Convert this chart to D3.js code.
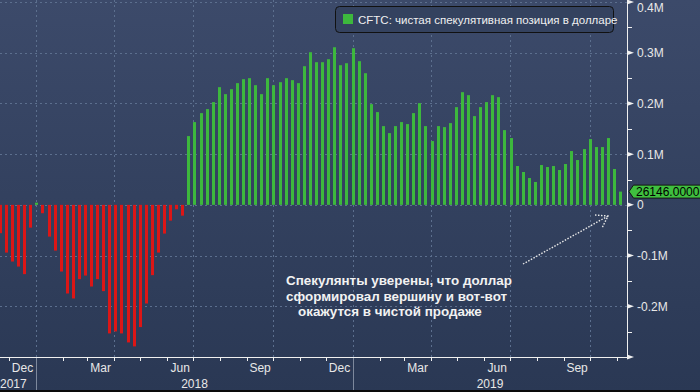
<!DOCTYPE html>
<html>
<head>
<meta charset="utf-8">
<script src="https://cdn.jsdelivr.net/npm/d3@7"></script>
<style>
  body { margin: 0; background: #2c3a57; }
  svg { display: block; font-family: "Liberation Sans", Arial, sans-serif; }
</style>
</head>
<body>
<script>
// CFTC net speculative USD position, weekly (Tuesday) from 21 Nov 2017
var firstWeek = "2017-11-21"
var netPosition = [
  -55900, -94100, -111800, -121700, -136600, -44900, 4300, -16500, -62600, -90200,
  -131500, -174800, -184600, -146500, -139400, -161000, -146500, -170100, -253500, -249600,
  -253500, -271300, -279100, -241000, -194500, -138600, -94100, -56700, -31100, -8700,
  -21300, 135600, 163200, 180900, 188800, 202600, 232100, 218300, 228100, 240000,
  247800, 249800, 236000, 218300, 249800, 236000, 241900, 249800, 245900, 240000,
  273400, 301000, 281300, 281300, 287200, 310800, 275400, 279300, 308900, 283300,
  259600, 198600, 182900, 155300, 141500, 155300, 163200, 159300, 180900, 200600,
  155300, 125800, 155300, 153300, 161200, 192700, 222200, 216300, 175000, 192700,
  202600, 216300, 212400, 147400, 131700, 76600, 64800, 52900, 45100, 78500,
  74600, 76600, 68700, 80500, 106100, 88400, 110000, 129700, 114000, 114000,
  131700, 70700, 26146
]
var yTicks = [-300000, -200000, -100000, 0, 100000, 200000, 300000, 400000]
var yTickLabels = ["", "-0.2M", "-0.1M", "0", "0.1M", "0.2M", "0.3M", "0.4M"]
var monthLabels = ["Dec", "Mar", "Jun", "Sep"]
var legendText = "CFTC: чистая спекулятивная позиция в долларе"
var noteLines = ["Спекулянты уверены, что доллар", "сформировал вершину и вот-вот", "окажутся в чистой продаже"]

var w = 700
var h = 392
var plotRight = 627
var plotBottom = 357

var start = d3.utcParse("%Y-%m-%d")(firstWeek)
var data = netPosition.map((v, i) => ({ date: d3.utcDay.offset(start, 7 * i), value: v }))

var svg = d3.select("body").append("svg")
    .attr("width", w)
    .attr("height", h)

// background
var grad = svg.append("defs").append("linearGradient")
    .attr("id", "bg").attr("x1", 0).attr("y1", 0).attr("x2", 0).attr("y2", 1)
grad.append("stop").attr("offset", "0%").attr("stop-color", "#3c4a6a")
grad.append("stop").attr("offset", "100%").attr("stop-color", "#2a3854")
svg.append("rect").attr("width", w).attr("height", h).attr("fill", "url(#bg)")
svg.append("rect").attr("y", h - 2).attr("width", w).attr("height", 2).attr("fill", "#0a0a0a")

var xScale = d3.scaleUtc()
    .domain([new Date(Date.UTC(2018, 0, 1)), new Date(Date.UTC(2019, 0, 1))])
    .range([36, 353])

var yScale = d3.scaleLinear()
    .domain([-300000, 400000])
    .range([plotBottom, 2])

var xMin = xScale.invert(0)
var xMax = xScale.invert(plotRight)

// grid
var grid = svg.append("g")
    .attr("stroke", "#5c6f8e")
    .attr("stroke-width", 1)
    .attr("stroke-dasharray", "2,3")
grid.selectAll(".hg")
    .data(yTicks.filter(t => t > -300000))
    .enter().append("line")
    .attr("x1", 0).attr("x2", plotRight)
    .attr("y1", d => Math.round(yScale(d)) + 0.5)
    .attr("y2", d => Math.round(yScale(d)) + 0.5)
grid.selectAll(".vg")
    .data(d3.utcMonth.every(3).range(xMin, xMax))
    .enter().append("line")
    .attr("x1", d => Math.round(xScale(d)) + 0.5)
    .attr("x2", d => Math.round(xScale(d)) + 0.5)
    .attr("y1", 0).attr("y2", plotBottom)

// bars
svg.append("g").selectAll("rect")
    .data(data)
    .enter().append("rect")
    .attr("x", d => Math.round(xScale(d.date) - 1.5))
    .attr("width", 3)
    .attr("y", d => d.value >= 0 ? yScale(d.value) : yScale(0))
    .attr("height", d => Math.max(1, Math.abs(yScale(d.value) - yScale(0))))
    .attr("fill", d => d.value >= 0 ? "#3db83d" : "#dc1616")

// y axis
var yAxis = svg.append("g")
yAxis.append("line")
    .attr("x1", plotRight + 0.5).attr("x2", plotRight + 0.5)
    .attr("y1", 0).attr("y2", plotBottom + 1)
    .attr("stroke", "#f0f0f0")
var minor = d3.range(-250000, 400000, 100000)
yAxis.selectAll(".minor")
    .data(minor)
    .enter().append("line")
    .attr("x1", plotRight).attr("x2", plotRight + 5)
    .attr("y1", d => Math.round(yScale(d)) + 0.5)
    .attr("y2", d => Math.round(yScale(d)) + 0.5)
    .attr("stroke", "#f0f0f0")
yAxis.selectAll(".tri")
    .data(yTicks)
    .enter().append("path")
    .attr("d", d => {
        var y = yScale(d)
        return "M" + plotRight + "," + (y - 2.5) + "L" + (plotRight + 7) + "," + y + "L" + plotRight + "," + (y + 2.5) + "Z"
    })
    .attr("fill", "#f0f0f0")
yAxis.selectAll("text")
    .data(yTicks)
    .enter().append("text")
    .attr("x", 637)
    .attr("y", d => Math.max(yScale(d) + 4.5, 11.5))
    .attr("font-size", 12)
    .attr("fill", "#e8e8e8")
    .text((d, i) => yTickLabels[i])

// x axis
var xAxis = svg.append("g")
xAxis.append("line")
    .attr("x1", 0).attr("x2", plotRight + 1)
    .attr("y1", plotBottom + 0.5).attr("y2", plotBottom + 0.5)
    .attr("stroke", "#f0f0f0")
var months = d3.utcMonth.range(d3.utcMonth.ceil(xMin), xMax)
xAxis.selectAll(".tk")
    .data(months)
    .enter().append("line")
    .attr("x1", d => Math.round(xScale(d)) + 0.5)
    .attr("x2", d => Math.round(xScale(d)) + 0.5)
    .attr("y1", plotBottom).attr("y2", plotBottom + 4)
    .attr("stroke", "#f0f0f0")
var monthFmt = d3.utcFormat("%b")
xAxis.selectAll(".ml")
    .data(d3.utcMonth.range(d3.utcMonth.floor(xMin), xMax).filter(d => monthLabels.includes(monthFmt(d))))
    .enter().append("text")
    .attr("x", d => (xScale(d) + xScale(d3.utcMonth.offset(d, 1))) / 2)
    .attr("y", 372)
    .attr("text-anchor", "middle")
    .attr("font-size", 12)
    .attr("fill", "#e8e8e8")
    .text(d => monthFmt(d))

var years = d3.utcYear.range(d3.utcYear.floor(xMin), xMax)
xAxis.selectAll(".ysep")
    .data(years.slice(1))
    .enter().append("line")
    .attr("x1", d => Math.round(xScale(d)) + 0.5)
    .attr("x2", d => Math.round(xScale(d)) + 0.5)
    .attr("y1", plotBottom + 1).attr("y2", h - 2)
    .attr("stroke", "#7d889c")
xAxis.selectAll(".yl")
    .data(years)
    .enter().append("text")
    .attr("x", (d, i) => {
        if (i == 0) return 0
        var a = Math.max(0, xScale(d))
        var b = Math.min(plotRight, xScale(d3.utcYear.offset(d, 1)))
        return (a + b) / 2
    })
    .attr("y", 388)
    .attr("text-anchor", (d, i) => i == 0 ? "start" : "middle")
    .attr("font-size", 12)
    .attr("fill", "#e8e8e8")
    .text(d => d.getUTCFullYear())

// legend
var legend = svg.append("g")
legend.append("rect")
    .attr("x", 335.5).attr("y", 6.5)
    .attr("width", 278).attr("height", 26)
    .attr("rx", 4)
    .attr("fill", "#34425f")
    .attr("stroke", "#111")
legend.append("rect")
    .attr("x", 343).attr("y", 14)
    .attr("width", 10).attr("height", 10)
    .attr("fill", "#3db83d")
legend.append("text")
    .attr("x", 358).attr("y", 23.5)
    .attr("font-size", 11.5)
    .attr("fill", "#f0f0f0")
    .text(legendText)

// last value tag
var last = data[data.length - 1]
var ly = yScale(last.value)
svg.append("path")
    .attr("d", "M629," + ly + "L633.5," + (ly - 6.5) + "L702," + (ly - 6.5) + "L702," + (ly + 6.5) + "L633.5," + (ly + 6.5) + "Z")
    .attr("fill", "#3fbf3f")
    .attr("stroke", "#151515")
svg.append("text")
    .attr("x", 636).attr("y", ly + 4.5)
    .attr("font-size", 12)
    .attr("fill", "#000")
    .text(d3.format(".4f")(last.value))

// annotation
var noteX = [286, 286, 298]
var note = svg.append("text")
    .attr("font-size", 13.4)
    .attr("font-weight", "bold")
    .attr("fill", "#f2f2f2")
note.selectAll("tspan")
    .data(noteLines)
    .enter().append("tspan")
    .attr("x", (d, i) => noteX[i])
    .attr("y", (d, i) => 285 + i * 15.5)
    .text(d => d)

svg.append("path")
    .attr("d", "M523,264L608,216M595,215L608,216L602,228")
    .attr("fill", "none")
    .attr("stroke", "#e8e8e8")
    .attr("stroke-width", 1.4)
    .attr("stroke-dasharray", "1.5,1.5")
</script>
</body>
</html>
